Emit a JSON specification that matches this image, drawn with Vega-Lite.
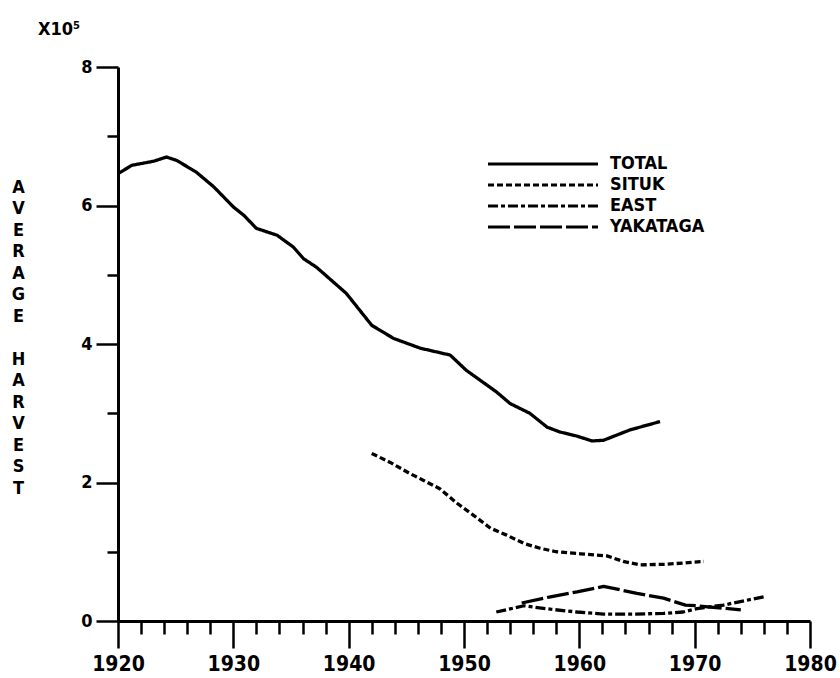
{
  "$schema": "https://vega.github.io/schema/vega-lite/v6.json",
  "width": 692,
  "height": 554,
  "autosize": {"type": "none"},
  "padding": {"left": 118, "top": 67, "right": 30, "bottom": 57},
  "background": "white",
  "config": {"view": {"stroke": null}, "font": "DejaVu Sans Condensed"},
  "title": {
    "text": "X10⁵",
    "anchor": "start",
    "orient": "top",
    "frame": "group",
    "dx": -80,
    "offset": 5,
    "baseline": "alphabetic",
    "font": "DejaVu Sans Condensed",
    "fontSize": 18,
    "fontWeight": "bold",
    "color": "black"
  },
  "data": {
    "values": [
      {"series": "TOTAL", "year": 1920.0, "value": 6.46},
      {"series": "TOTAL", "year": 1921.2, "value": 6.58},
      {"series": "TOTAL", "year": 1923.1, "value": 6.64},
      {"series": "TOTAL", "year": 1924.2, "value": 6.70},
      {"series": "TOTAL", "year": 1925.1, "value": 6.65},
      {"series": "TOTAL", "year": 1926.8, "value": 6.48},
      {"series": "TOTAL", "year": 1928.3, "value": 6.27},
      {"series": "TOTAL", "year": 1930.0, "value": 5.98},
      {"series": "TOTAL", "year": 1930.9, "value": 5.86},
      {"series": "TOTAL", "year": 1932.0, "value": 5.67},
      {"series": "TOTAL", "year": 1933.8, "value": 5.57},
      {"series": "TOTAL", "year": 1935.2, "value": 5.40},
      {"series": "TOTAL", "year": 1936.1, "value": 5.23},
      {"series": "TOTAL", "year": 1937.2, "value": 5.11},
      {"series": "TOTAL", "year": 1939.8, "value": 4.73},
      {"series": "TOTAL", "year": 1942.0, "value": 4.27},
      {"series": "TOTAL", "year": 1943.9, "value": 4.08},
      {"series": "TOTAL", "year": 1946.2, "value": 3.94},
      {"series": "TOTAL", "year": 1948.8, "value": 3.84},
      {"series": "TOTAL", "year": 1950.2, "value": 3.62},
      {"series": "TOTAL", "year": 1952.8, "value": 3.31},
      {"series": "TOTAL", "year": 1954.0, "value": 3.14},
      {"series": "TOTAL", "year": 1955.7, "value": 3.00},
      {"series": "TOTAL", "year": 1957.2, "value": 2.80},
      {"series": "TOTAL", "year": 1958.3, "value": 2.73},
      {"series": "TOTAL", "year": 1959.8, "value": 2.67},
      {"series": "TOTAL", "year": 1961.1, "value": 2.60},
      {"series": "TOTAL", "year": 1962.1, "value": 2.61},
      {"series": "TOTAL", "year": 1964.4, "value": 2.76},
      {"series": "TOTAL", "year": 1967.0, "value": 2.88},
      {"series": "SITUK", "year": 1942.0, "value": 2.42},
      {"series": "SITUK", "year": 1943.6, "value": 2.29},
      {"series": "SITUK", "year": 1945.3, "value": 2.13},
      {"series": "SITUK", "year": 1946.5, "value": 2.03},
      {"series": "SITUK", "year": 1947.9, "value": 1.91},
      {"series": "SITUK", "year": 1949.4, "value": 1.70},
      {"series": "SITUK", "year": 1950.8, "value": 1.53},
      {"series": "SITUK", "year": 1952.3, "value": 1.34},
      {"series": "SITUK", "year": 1953.7, "value": 1.24},
      {"series": "SITUK", "year": 1955.2, "value": 1.12},
      {"series": "SITUK", "year": 1956.6, "value": 1.05},
      {"series": "SITUK", "year": 1958.0, "value": 1.00},
      {"series": "SITUK", "year": 1960.1, "value": 0.97},
      {"series": "SITUK", "year": 1962.4, "value": 0.94},
      {"series": "SITUK", "year": 1963.8, "value": 0.86},
      {"series": "SITUK", "year": 1965.3, "value": 0.81},
      {"series": "SITUK", "year": 1967.6, "value": 0.82},
      {"series": "SITUK", "year": 1970.8, "value": 0.86},
      {"series": "EAST", "year": 1952.8, "value": 0.13},
      {"series": "EAST", "year": 1955.2, "value": 0.22},
      {"series": "EAST", "year": 1957.5, "value": 0.17},
      {"series": "EAST", "year": 1959.8, "value": 0.13},
      {"series": "EAST", "year": 1962.1, "value": 0.10},
      {"series": "EAST", "year": 1964.7, "value": 0.10},
      {"series": "EAST", "year": 1967.3, "value": 0.11},
      {"series": "EAST", "year": 1969.0, "value": 0.13},
      {"series": "EAST", "year": 1970.2, "value": 0.18},
      {"series": "EAST", "year": 1972.5, "value": 0.23},
      {"series": "EAST", "year": 1976.0, "value": 0.35},
      {"series": "YAKATAGA", "year": 1955.0, "value": 0.26},
      {"series": "YAKATAGA", "year": 1957.5, "value": 0.35},
      {"series": "YAKATAGA", "year": 1959.8, "value": 0.42},
      {"series": "YAKATAGA", "year": 1962.1, "value": 0.50},
      {"series": "YAKATAGA", "year": 1965.0, "value": 0.40},
      {"series": "YAKATAGA", "year": 1967.3, "value": 0.33},
      {"series": "YAKATAGA", "year": 1969.2, "value": 0.23},
      {"series": "YAKATAGA", "year": 1970.2, "value": 0.22},
      {"series": "YAKATAGA", "year": 1974.0, "value": 0.16}
    ]
  },
  "mark": {"type": "line", "color": "black", "strokeWidth": 3.3, "strokeCap": "butt", "strokeJoin": "round"},
  "encoding": {
    "x": {
      "field": "year",
      "type": "quantitative",
      "scale": {"domain": [1920, 1980], "nice": false, "zero": false},
      "axis": {
        "values": [1920, 1922, 1924, 1926, 1928, 1930, 1932, 1934, 1936, 1938, 1940, 1942, 1944, 1946, 1948, 1950, 1952, 1954, 1956, 1958, 1960, 1962, 1964, 1966, 1968, 1970, 1972, 1974, 1976, 1978, 1980],
        "format": "d",
        "labelExpr": "datum.value % 10 === 0 ? datum.label : ''",
        "labelOverlap": false,
        "labelFlush": false,
        "labelBound": false,
        "grid": false,
        "title": null,
        "domainColor": "black",
        "domainWidth": 3,
        "tickColor": "black",
        "tickWidth": 2.5,
        "tickSize": {"condition": {"test": "datum.value % 10 === 0", "value": 27}, "value": 13},
        "labelFont": "DejaVu Sans Condensed",
        "labelFontSize": 21,
        "labelFontWeight": "bold",
        "labelColor": "black",
        "labelPadding": 5
      }
    },
    "y": {
      "field": "value",
      "type": "quantitative",
      "scale": {"domain": [0, 8], "nice": false},
      "axis": {
        "values": [0, 1, 2, 3, 4, 5, 6, 7, 8],
        "labelExpr": "datum.value % 2 === 0 ? datum.label : ''",
        "labelOverlap": false,
        "labelFlush": false,
        "labelBound": false,
        "grid": false,
        "domainColor": "black",
        "domainWidth": 3,
        "tickColor": "black",
        "tickWidth": 2.5,
        "tickSize": {"condition": {"test": "datum.value % 2 === 0", "value": 22}, "value": 11},
        "labelFont": "DejaVu Sans Condensed",
        "labelFontSize": 18,
        "labelFontWeight": "bold",
        "labelColor": "black",
        "labelPadding": 4,
        "title": ["A", "V", "E", "R", "A", "G", "E", "\u2800", "H", "A", "R", "V", "E", "S", "T"],
        "titleAngle": 0,
        "titleAlign": "center",
        "titleBaseline": "top",
        "titleX": -100,
        "titleY": 111,
        "titleLineHeight": 21.5,
        "titleFont": "DejaVu Sans Condensed",
        "titleFontSize": 18,
        "titleFontWeight": "bold",
        "titleColor": "black"
      }
    },
    "strokeDash": {
      "field": "series",
      "type": "nominal",
      "scale": {
        "domain": ["TOTAL", "SITUK", "EAST", "YAKATAGA"],
        "range": [[1, 0], [6, 3], [10, 3, 4, 3], [22, 4]]
      },
      "legend": {
        "orient": "none",
        "legendX": 415,
        "legendY": 87,
        "padding": 0,
        "title": null,
        "symbolType": "M-6.47,0H6.47",
        "symbolSize": 289,
        "symbolStrokeWidth": 3,
        "symbolStrokeColor": "black",
        "symbolFillColor": "transparent",
        "labelFont": "DejaVu Sans Condensed",
        "labelFontSize": 18,
        "labelFontWeight": "bold",
        "labelColor": "black",
        "labelOffset": 57,
        "rowPadding": 2
      }
    }
  }
}
